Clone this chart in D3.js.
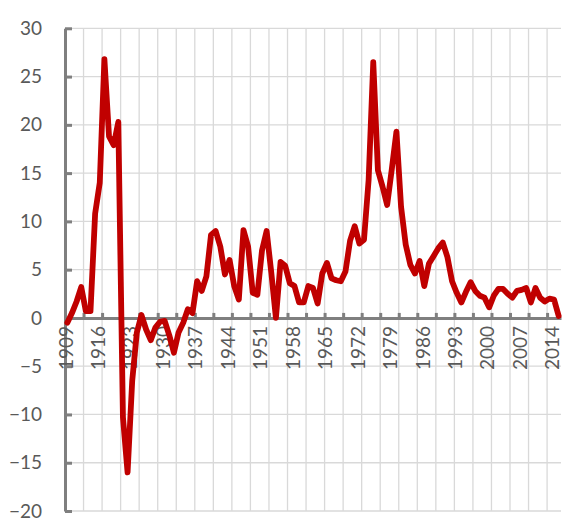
<!DOCTYPE html>
<html>
<head>
<meta charset="utf-8">
<script src="https://cdn.jsdelivr.net/npm/d3@7"></script>
<style>
  html, body { margin: 0; padding: 0; background: #fff; }
  svg { display: block; font-family: Lato, 'Open Sans', sans-serif; }
</style>
</head>
<body>
<svg id="chart" width="562" height="520"></svg>
<script>
'use strict'

const years = d3.range(1909, 2016)

const rates = [
  -0.5, 0.5, 1.7, 3.2, 0.7, 0.7, 10.8, 14.0, 26.8, 18.8,
  17.9, 20.3, -10.3, -16.0, -6.5, -1.5, 0.3, -1.2, -2.3, -1.0,
  -0.4, -0.3, -1.8, -3.6, -1.5, -0.5, 0.9, 0.5, 3.8, 2.8,
  4.3, 8.6, 9.0, 7.4, 4.5, 6.0, 3.3, 1.9, 9.1, 7.4,
  2.6, 2.4, 7.0, 9.0, 4.7, 0.0, 5.8, 5.4, 3.6, 3.3,
  1.6, 1.6, 3.3, 3.1, 1.5, 4.6, 5.7, 4.1, 3.9, 3.8,
  4.8, 8.0, 9.5, 7.7, 8.1, 14.3, 26.5, 15.3, 13.6, 11.7,
  15.4, 19.3, 11.5, 7.6, 5.5, 4.6, 5.9, 3.3, 5.6, 6.4,
  7.2, 7.8, 6.3, 3.8, 2.6, 1.6, 2.7, 3.7, 2.8, 2.3,
  2.1, 1.1, 2.3, 3.0, 3.0, 2.5, 2.1, 2.8, 2.9, 3.1,
  1.6, 3.1, 2.1, 1.7, 2.0, 1.9, 0.2
]

const yTicks = d3.range(-20, 31, 5)
const xLabelYears = d3.range(1909, 2015, 7)
// category boundaries every 4 years
const xGridYears = d3.range(1908.5, 2016, 4)

const grey = '#7f7f7f'
const gridColor = '#d9d9d9'
const textColor = '#595959'

const svg = d3.select('#chart')

const x = d3.scaleLinear().domain([1908.5, 2015.5]).range([65, 561])
const y = d3.scaleLinear().domain([-20, 30]).range([511, 28.3])

// grid
svg.append('g')
  .selectAll('line.h')
  .data(yTicks)
  .join('line')
  .attr('x1', x(1908.5)).attr('x2', x(2015.5))
  .attr('y1', d => y(d)).attr('y2', d => y(d))
  .attr('stroke', gridColor).attr('stroke-width', 1.3)

svg.append('g')
  .selectAll('line.v')
  .data(xGridYears.slice(1))
  .join('line')
  .attr('x1', d => x(d)).attr('x2', d => x(d))
  .attr('y1', y(30)).attr('y2', y(-20))
  .attr('stroke', gridColor).attr('stroke-width', 1.3)

// y axis, ticks pointing inside
const yAxis = svg.append('g')
  .attr('transform', `translate(${x(1908.5)},0)`)
  .call(d3.axisLeft(y).tickValues(yTicks).tickSizeInner(-7).tickSizeOuter(0).tickPadding(23))

yAxis.select('.domain').attr('stroke', grey).attr('stroke-width', 3)
yAxis.selectAll('.tick line').attr('stroke', grey).attr('stroke-width', 3)
yAxis.selectAll('.tick text')
  .attr('fill', textColor)
  .style('font-size', '19px')
  .style('font-family', 'Lato, sans-serif')

// x axis on the zero line
const xAxis = svg.append('g')
  .attr('transform', `translate(0,${y(0)})`)
  .call(d3.axisBottom(x).tickValues(xGridYears).tickSizeInner(-5).tickSizeOuter(0).tickFormat(''))

xAxis.select('.domain').attr('stroke', grey).attr('stroke-width', 3)
xAxis.selectAll('.tick line').attr('stroke', grey).attr('stroke-width', 3)

const xLabels = svg.append('g')
  .attr('transform', `translate(0,${y(0)})`)
  .call(d3.axisBottom(x).tickValues(xLabelYears).tickSize(0).tickFormat(d3.format('d')))

xLabels.select('.domain').remove()
xLabels.selectAll('.tick text')
  .attr('fill', textColor)
  .style('font-size', '19px')
  .style('font-family', 'Lato, sans-serif')
  .attr('text-anchor', 'end')
  .attr('dy', '0.25em')
  .attr('y', 0)
  .attr('transform', 'rotate(-90) translate(-8,0)')

// series
const line = d3.line()
  .x((d, i) => x(years[i]))
  .y(d => y(d))

svg.append('path')
  .datum(rates)
  .attr('d', line)
  .attr('fill', 'none')
  .attr('stroke', '#c00000')
  .attr('stroke-width', 5.8)
  .attr('stroke-linejoin', 'round')
  .attr('stroke-linecap', 'round')
</script>
</body>
</html>
